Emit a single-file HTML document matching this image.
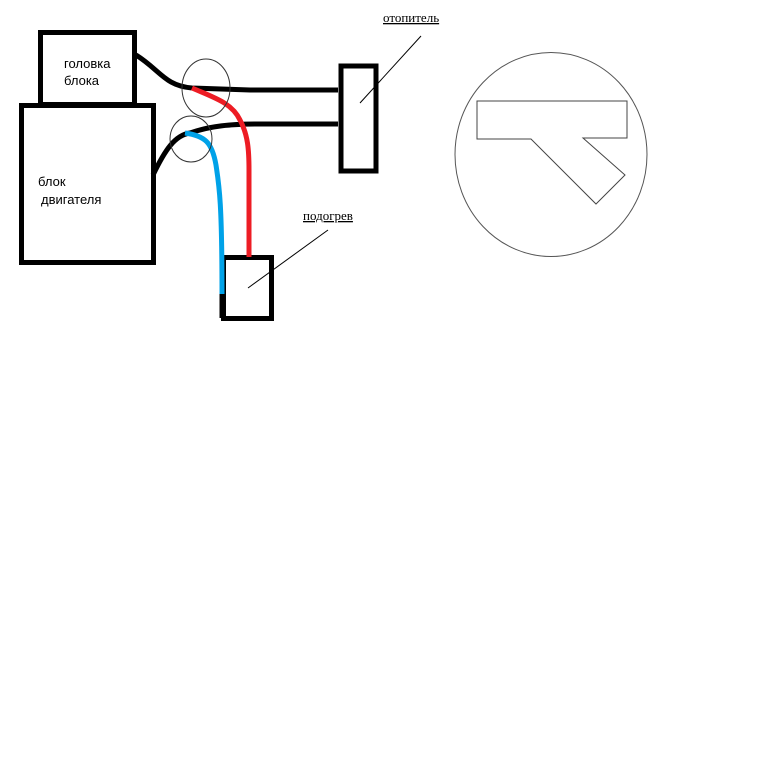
<!DOCTYPE html>
<html><head><meta charset="utf-8"><style>
html,body{margin:0;padding:0;background:#fff;width:773px;height:768px;overflow:hidden}
svg{display:block}
.s{font-family:"Liberation Sans","DejaVu Sans",sans-serif;font-size:13px}
.r{font-family:"Liberation Serif","DejaVu Serif",serif;font-size:13px;text-decoration:underline}
</style></head><body>
<svg width="773" height="768" viewBox="0 0 773 768" xmlns="http://www.w3.org/2000/svg">
<g fill="none" stroke="#000" stroke-width="5">
<rect x="40.5" y="32.5" width="94" height="72"/>
<rect x="21.5" y="105.5" width="132" height="157"/>
<rect x="341" y="66" width="35" height="105"/>
<rect x="223.5" y="257.5" width="48" height="61"/>
<path d="M136 55 C160 70 165 86 192 88 L250 90 L338 90"/>
<path d="M153 175 C165 150 175 135 190 133 C210 126 230 124 260 124 L338 124"/>
<path d="M222 290 L222 318"/>
</g>
<path d="M192 88 C215 98 232 103 240 120 C248 135 249 150 249 170 L249 257" fill="none" stroke="#ed1c24" stroke-width="5"/>
<path d="M185 133 C205 136 212 142 216 165 C219 185 222 200 222 294" fill="none" stroke="#00a2e8" stroke-width="5"/>
<g fill="none" stroke="#000" stroke-width="1">
<ellipse cx="206" cy="88" rx="24" ry="29" stroke="#333"/>
<ellipse cx="191" cy="139" rx="21" ry="23" stroke="#333"/>
<line x1="421" y1="36" x2="360" y2="103"/>
<line x1="328" y1="230" x2="248" y2="288"/>
<ellipse cx="551" cy="154.5" rx="96" ry="102" stroke="#555"/>
<polygon points="477,101 627,101 627,138 583,138 625,175 596,204 531,139 477,139" stroke="#444"/>
</g>
<text class="s" x="64" y="68">головка</text>
<text class="s" x="64" y="85">блока</text>
<text class="s" x="38" y="186">блок</text>
<text class="s" x="41" y="204">двигателя</text>
<text class="r" x="383" y="22">отопитель</text>
<text class="r" x="303" y="220">подогрев</text>
</svg>
</body></html>
